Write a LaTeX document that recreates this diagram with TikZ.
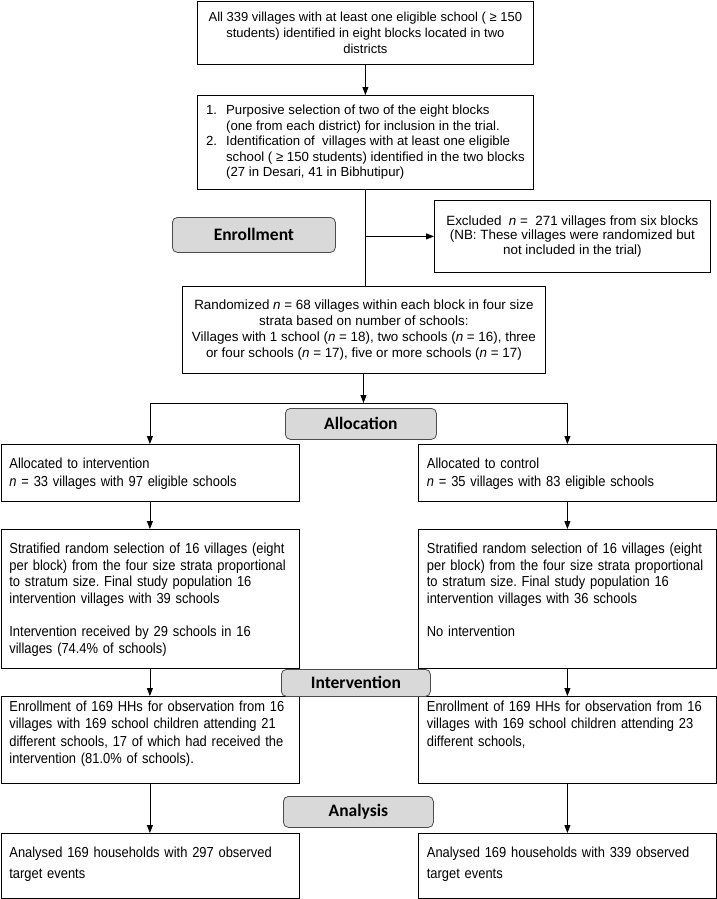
\documentclass[tikz,border=0pt]{standalone}
\usepackage{fontspec}
\setmainfont{Liberation Sans}
\newfontfamily\narrowsf[FakeStretch=0.89]{Liberation Sans}
\newfontfamily\stagefont{Carlito}
\usetikzlibrary{arrows.meta,positioning}
\frenchspacing

\begin{document}
\begin{tikzpicture}[x=1pt, y=-1pt, font=\fontsize{13}{16}\selectfont] % y runs downwards, as in the page
\tikzstyle{upper} = [rectangle, draw=black, line width=0.8pt, anchor=north west, align=center, inner sep=0pt]
\tikzstyle{box} = [rectangle, draw=black, line width=0.8pt, anchor=north west, inner xsep=8.5pt, inner ysep=0pt, text width=281pt, align=left, font=\narrowsf\fontsize{14.5}{17.5}\selectfont]
\tikzstyle{stage} = [rectangle, rounded corners=5pt, draw=black!70, fill=black!15, line width=0.8pt, anchor=north west, inner sep=0pt, font=\stagefont\bfseries\fontsize{17.5}{20}\selectfont]
\tikzstyle{arrow} = [-{Triangle[length=8pt, width=6pt]}, line width=0.8pt, draw=black]
\tikzstyle{line} = [line width=0.8pt, draw=black]

\useasboundingbox (0,0) rectangle (717,899);

% Upper part: selection of villages and blocks
\node[upper, minimum width=336pt, minimum height=63pt] (Villages) at (197,1) {All 339 villages with at least one eligible school ( ≥ 150\\students) identified in eight blocks located in two\\districts};
\node[upper, minimum width=336pt, minimum height=94pt, font=\fontsize{13.2}{15.5}\selectfont] (Selection) at (197,95) {%
\begin{tabular}{@{}l@{\hspace{9pt}}l@{}}
1. & Purposive selection of two of the eight blocks\\
 & (one from each district) for inclusion in the trial.\\
2. & Identification of\ \ villages with at least one eligible\\
 & school ( ≥ 150 students) identified in the two blocks\\
 & (27 in Desari, 41 in Bibhutipur)
\end{tabular}};
\node[stage, minimum width=163pt, minimum height=35pt] (Enrollment) at (172,217) {Enrollment};
\node[upper, minimum width=276pt, minimum height=72pt, font=\fontsize{13.4}{14.5}\selectfont] (Excluded) at (434,200) {Excluded\ \ \textit{n} =\ \ 271 villages from six blocks\\(NB: These villages were randomized but\\not included in the trial)};
\node[upper, minimum width=363pt, minimum height=87pt, font=\fontsize{13.4}{16}\selectfont] (Randomized) at (182,286) {Randomized \textit{n} = 68 villages within each block in four size\\strata based on number of schools:\\Villages with 1 school (\textit{n} = 18), two schools (\textit{n} = 16), three\\or four schools (\textit{n} = 17), five or more schools (\textit{n} = 17)};
\coordinate (Split) at (363.5,403);
\node[stage, minimum width=151pt, minimum height=31pt] (Allocation) at (285,408) {Allocation};

% Intervention arm
\node[box, text height=24pt, text depth=33pt, font=\narrowsf\fontsize{14.5}{18.3}\selectfont] (AllocInt) at (0.5,444) {Allocated to intervention\\\textit{n} = 33 villages with 97 eligible schools};
\node[box, text height=24pt, text depth=115pt, font=\narrowsf\fontsize{14.5}{16.7}\selectfont] (StratInt) at (0.5,529) {Stratified random selection of 16 villages (eight\\per block) from the four size strata proportional\\to stratum size. Final study population 16\\intervention villages with 39 schools\\[16.7pt]Intervention received by 29 schools in 16\\villages (74.4\% of schools)};
\node[box, text height=15pt, text depth=72pt] (EnrolInt) at (0.5,696) {Enrollment of 169 HHs for observation from 16\\villages with 169 school children attending 21\\different schools, 17 of which had received the\\intervention (81.0\% of schools).};
\node[box, text height=24pt, text depth=41pt, font=\narrowsf\fontsize{14.5}{21}\selectfont] (AnalysedInt) at (0.5,833) {Analysed 169 households with 297 observed\\target events};

% Control arm
\node[box, text height=24pt, text depth=33pt, font=\narrowsf\fontsize{14.5}{18.3}\selectfont] (AllocCtrl) at (418,444) {Allocated to control\\\textit{n} = 35 villages with 83 eligible schools};
\node[box, text height=24pt, text depth=115pt, font=\narrowsf\fontsize{14.5}{16.7}\selectfont] (StratCtrl) at (418,529) {Stratified random selection of 16 villages (eight\\per block) from the four size strata proportional\\to stratum size. Final study population 16\\intervention villages with 36 schools\\[16.7pt]No intervention};
\node[box, text height=15pt, text depth=72pt] (EnrolCtrl) at (418,696) {Enrollment of 169 HHs for observation from 16\\villages with 169 school children attending 23\\different schools,};
\node[box, text height=24pt, text depth=41pt, font=\narrowsf\fontsize{14.5}{21}\selectfont] (AnalysedCtrl) at (418,833) {Analysed 169 households with 339 observed\\target events};

% Stage labels between the arms
\node[stage, minimum width=149pt, minimum height=27pt] (Intervention) at (281,669) {Intervention};
\node[stage, minimum width=150pt, minimum height=31pt] (Analysis) at (283,796) {Analysis};

% Draw arrows between the boxes
\draw[arrow] (Villages) -- (Selection);
\draw[line] (Selection.south) -- (Selection.south |- Randomized.north);
\draw[arrow] (Selection.south |- Excluded.west) -- (Excluded.west);
\draw[arrow] (Randomized.south -| Split) -- (Split);
\draw[arrow] (Split) -| (AllocInt.north);
\draw[arrow] (Split) -| (AllocCtrl.north);

\draw[arrow] (AllocInt) -- (StratInt);
\draw[arrow] (StratInt) -- (EnrolInt);
\draw[arrow] (EnrolInt) -- (AnalysedInt);

\draw[arrow] (AllocCtrl) -- (StratCtrl);
\draw[arrow] (StratCtrl) -- (EnrolCtrl);
\draw[arrow] (EnrolCtrl) -- (AnalysedCtrl);

\end{tikzpicture}
\end{document}
